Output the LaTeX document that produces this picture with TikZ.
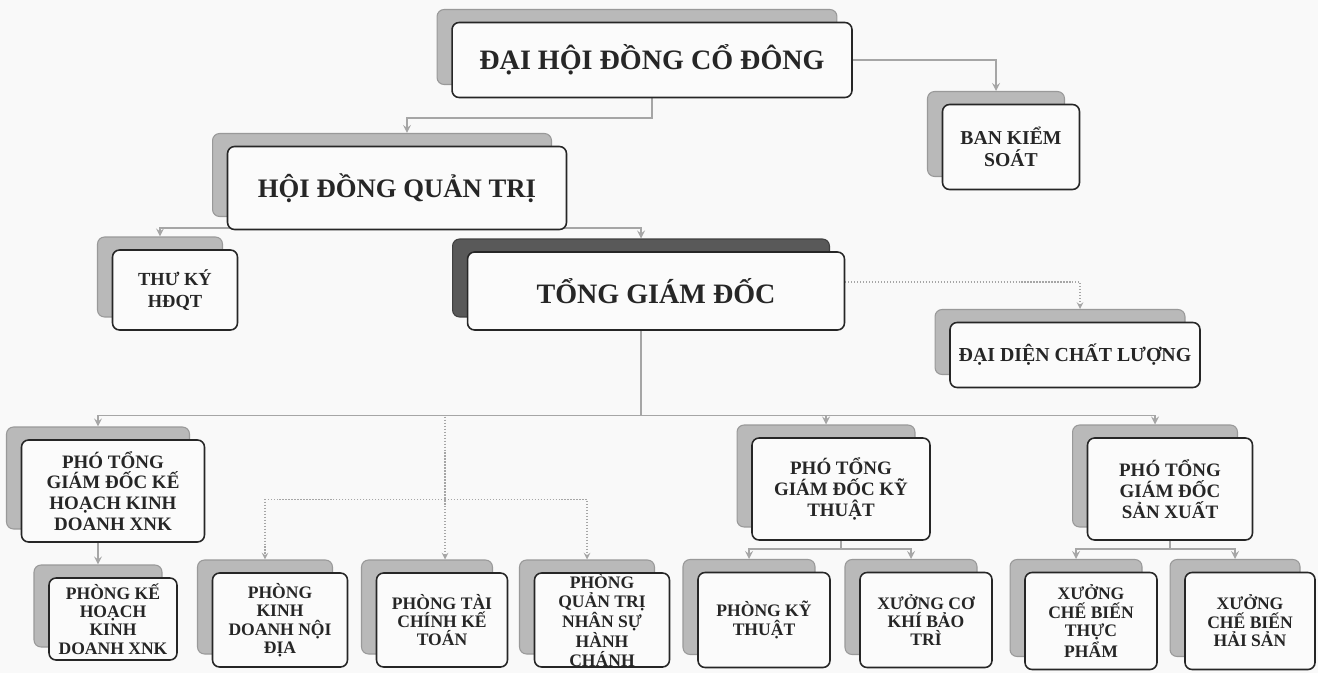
\documentclass[tikz,border=0pt]{standalone}
\usepackage{fontspec}
\setmainfont{Liberation Serif}
\usetikzlibrary{arrows, calc, backgrounds}
\tikzstyle{back} = [rectangle, rounded corners=4pt, inner sep=0pt, fill=gray!55, draw=gray!80, line width=0.6pt]
\tikzstyle{darkback} = [back, fill=black!65, draw=black!75]
\tikzstyle{front} = [rectangle, rounded corners=4pt, inner sep=0pt, fill=gray!3, draw=black!85, line width=0.9pt, text=black!85, align=center, font=\fontsize{10}{10.5}\selectfont\bfseries]
\tikzstyle{mid} = [font=\fontsize{10.8}{11.8}\selectfont\bfseries]
\tikzstyle{big} = [font=\fontsize{16}{18}\selectfont\bfseries]
\tikzstyle{link} = [gray!70, line width=1pt, ->, >=stealth]
\tikzstyle{sublink} = [gray!70, line width=0.7pt, densely dotted, ->, >=stealth]

\begin{document}
\begin{tikzpicture}[x=0.02cm, y=-0.02cm]
            \useasboundingbox (0,0) rectangle (1318,673);

            \node [back, minimum width=8cm, minimum height=1.5cm] at (637,47) (dhdcd-s) {};
            \node [front, big, minimum width=8cm, minimum height=1.5cm] at (652,60) (dhdcd) {ĐẠI HỘI ĐỒNG CỔ ĐÔNG};
            \node [back, minimum width=2.74cm, minimum height=1.7cm] at (996,134) (bks-s) {};
            \node [front, font=\fontsize{11.2}{12.8}\selectfont\bfseries, minimum width=2.74cm, minimum height=1.7cm] at (1011,147) (bks) {BAN KIỂM\\SOÁT};
            \node [back, minimum width=6.78cm, minimum height=1.66cm] at (382,175) (hdqt-s) {};
            \node [front, font=\fontsize{15.2}{17}\selectfont\bfseries, minimum width=6.78cm, minimum height=1.66cm] at (397,188) (hdqt) {HỘI ĐỒNG QUẢN TRỊ};
            \node [back, minimum width=2.5cm, minimum height=1.6cm] at (160,277) (thuky-s) {};
            \node [front, font=\fontsize{10.5}{12.5}\selectfont\bfseries, minimum width=2.5cm, minimum height=1.6cm] at (175,290) (thuky) {THƯ KÝ\\HĐQT};
            \node [darkback, minimum width=7.54cm, minimum height=1.56cm] at (641,278) (tgd-s) {};
            \node [front, big, minimum width=7.54cm, minimum height=1.56cm] at (656,291) (tgd) {TỔNG GIÁM ĐỐC};
            \node [back, minimum width=5cm, minimum height=1.3cm] at (1060,342) (ddcl-s) {};
            \node [front, font=\fontsize{11.3}{12}\selectfont\bfseries, minimum width=5cm, minimum height=1.3cm] at (1075,355) (ddcl) {ĐẠI DIỆN CHẤT LƯỢNG};

            \node [back, minimum width=3.66cm, minimum height=2.04cm] at (98,478) (ptgdkh-s) {};
            \node [front, mid, minimum width=3.66cm, minimum height=2.04cm] at (113,491) (ptgdkh) {PHÓ TỔNG\\GIÁM ĐỐC KẾ\\HOẠCH KINH\\DOANH XNK};
            \node [back, minimum width=3.56cm, minimum height=2.04cm] at (826,476) (ptgdkt-s) {};
            \node [front, mid, minimum width=3.56cm, minimum height=2.04cm] at (841,489) (ptgdkt) {PHÓ TỔNG\\GIÁM ĐỐC KỸ\\THUẬT};
            \node [back, minimum width=3.3cm, minimum height=2.04cm] at (1155,476) (ptgdsx-s) {};
            \node [front, mid, minimum width=3.3cm, minimum height=2.04cm] at (1170,489) (ptgdsx) {PHÓ TỔNG\\GIÁM ĐỐC\\SẢN XUẤT};

            \node [back, minimum width=2.56cm, minimum height=1.64cm] at (98,606) (pkh-s) {};
            \node [front, minimum width=2.56cm, minimum height=1.64cm] at (113,619) (pkh) {PHÒNG KẾ\\HOẠCH\\KINH\\DOANH XNK};
            \node [back, minimum width=2.7cm, minimum height=1.88cm] at (265,607) (pkdnd-s) {};
            \node [front, minimum width=2.7cm, minimum height=1.88cm] at (280,620) (pkdnd) {PHÒNG\\KINH\\DOANH NỘI\\ĐỊA};
            \node [back, minimum width=2.62cm, minimum height=1.88cm] at (427,607) (ptckt-s) {};
            \node [front, minimum width=2.62cm, minimum height=1.88cm] at (442,620) (ptckt) {PHÒNG TÀI\\CHÍNH KẾ\\TOÁN};
            \node [back, minimum width=2.7cm, minimum height=1.88cm] at (587,607) (pqtns-s) {};
            \node [front, minimum width=2.7cm, minimum height=1.88cm] at (602,620) (pqtns) {PHÒNG\\QUẢN TRỊ\\NHÂN SỰ\\HÀNH\\CHÁNH};
            \node [back, minimum width=2.64cm, minimum height=1.9cm] at (749,607) (pkt-s) {};
            \node [front, minimum width=2.64cm, minimum height=1.9cm] at (764,620) (pkt) {PHÒNG KỸ\\THUẬT};
            \node [back, minimum width=2.64cm, minimum height=1.9cm] at (911,607) (xck-s) {};
            \node [front, minimum width=2.64cm, minimum height=1.9cm] at (926,620) (xck) {XƯỞNG CƠ\\KHÍ BẢO\\TRÌ};
            \node [back, minimum width=2.64cm, minimum height=1.94cm] at (1076,608) (xtp-s) {};
            \node [front, minimum width=2.64cm, minimum height=1.94cm] at (1091,621) (xtp) {XƯỞNG\\CHẾ BIẾN\\THỰC\\PHẨM};
            \node [back, minimum width=2.6cm, minimum height=1.94cm] at (1235,608) (xhs-s) {};
            \node [front, minimum width=2.6cm, minimum height=1.94cm] at (1250,621) (xhs) {XƯỞNG\\CHẾ BIẾN\\HẢI SẢN};

            \begin{scope}[on background layer]
            \fill [gray!5] (0,0) rectangle (1318,673);
            \draw [link] (dhdcd.east) -| (bks-s.north);
            \draw [link] (dhdcd.south) -- ++(0,20) -| ($(hdqt-s.north)+(25,0)$);
            \draw [link] ($(hdqt.south)+(0,-2)$) -| (thuky-s.north);
            \draw [link] ($(hdqt.south)+(0,-2)$) -| (tgd-s.north);
            \draw [sublink] ($(tgd.east)+(0,-9)$) -| ($(ddcl-s.north)+(20,0)$);
            \draw [link, -] (tgd-s.south) -- ++(0,98) coordinate (bus);
            \draw [link] (bus) -| (ptgdkh-s.north);
            \draw [link] (bus) -| (ptgdkt-s.north);
            \draw [link] (bus) -| (ptgdsx-s.north);
            \draw [sublink] (bus) -| ($(ptckt-s.north)+(18,0)$);
            \coordinate (sub) at ($(ptckt-s.north)+(18,-60)$);
            \draw [sublink] (sub) -| (pkdnd-s.north);
            \draw [sublink] (sub) -| (pqtns-s.north);
            \draw [link] (ptgdkh.south -| pkh-s.north) -- (pkh-s.north);
            \draw [link] (ptgdkt.south) -- ++(0,8) -| (pkt-s.north);
            \draw [link] (ptgdkt.south) -- ++(0,8) -| (xck-s.north);
            \draw [link] (ptgdsx.south) -- ++(0,8) -| (xtp-s.north);
            \draw [link] (ptgdsx.south) -- ++(0,8) -| (xhs-s.north);
            \end{scope}
            \end{tikzpicture}
\end{document}
